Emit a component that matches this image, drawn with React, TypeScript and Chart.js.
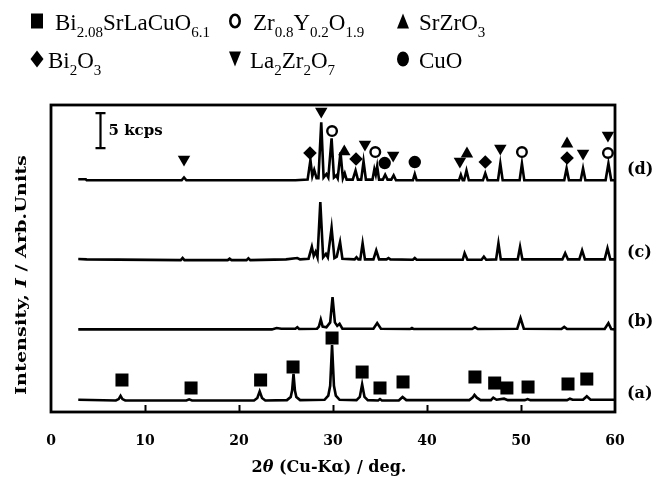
import React, { useEffect, useRef } from "react";
import { Chart, registerables } from "chart.js";

Chart.register(...registerables);

// ---------------- axes ----------------
const X_MIN = 0;
const X_MAX = 60;
const X_STEP = 10;
const X_TICKS_INNER = [10, 20, 30, 40, 50];
const Y_MIN = 0;
const Y_MAX = 43.86; // kcps

// ---------------- vertical offsets of the four patterns (kcps) ----------------
const OFFSET_A = 1.55;
const OFFSET_B = 11.8;
const OFFSET_C = 21.7;
const OFFSET_D = 33.1;

// ---------------- XRD patterns: [2theta (deg), intensity above own baseline (kcps)] ----------------
const PATTERN_A: number[][] = [
  [2.9, 0.2], [6.9, 0.1], [7.2, 0.3], [7.4, 0.75], [7.6, 0.3], [7.9, 0.1],
  [14.4, 0.1], [14.7, 0.25], [15.0, 0.1], [21.6, 0.1], [21.95, 0.45], [22.2, 1.4],
  [22.45, 0.45], [22.8, 0.1], [25.1, 0.15], [25.5, 0.6], [25.65, 1.5], [25.8, 3.9],
  [25.95, 1.5], [26.1, 0.6], [26.5, 0.15], [29.1, 0.2], [29.5, 0.8], [29.7, 2.2],
  [29.9, 8.0], [30.1, 2.2], [30.3, 0.8], [30.7, 0.2], [32.5, 0.15], [32.85, 0.6],
  [33.1, 2.4], [33.35, 0.6], [33.7, 0.15], [34.8, 0.1], [35.0, 0.3], [35.2, 0.1],
  [37.0, 0.1], [37.4, 0.6], [37.8, 0.15], [44.5, 0.15], [44.85, 0.5], [45.05, 0.9],
  [45.3, 0.5], [45.7, 0.15], [46.8, 0.15], [47.05, 0.5], [47.4, 0.2], [48.2, 0.35],
  [48.6, 0.15], [50.4, 0.15], [50.7, 0.3], [51.0, 0.15], [54.9, 0.15], [55.2, 0.35],
  [55.5, 0.2], [56.6, 0.2], [57.0, 0.7], [57.4, 0.2], [60, 0.2],
];

const PATTERN_B: number[][] = [
  [2.9, 0], [23.5, 0], [24.0, 0.2], [24.5, 0.1], [26.0, 0.1], [26.2, 0.3], [26.4, 0.05],
  [28.3, 0.1], [28.5, 0.4], [28.7, 1.4], [28.9, 0.4], [29.3, 0.3], [29.7, 1.0],
  [29.95, 4.6], [30.2, 1.0], [30.45, 0.5], [30.7, 0.8], [31.0, 0.1], [34.3, 0.1],
  [34.7, 0.9], [35.1, 0.1], [38.2, 0.05], [38.4, 0.2], [38.6, 0.05], [44.8, 0.05],
  [45.1, 0.3], [45.4, 0.05], [49.6, 0.1], [49.95, 1.6], [50.3, 0.1], [54.3, 0.05],
  [54.6, 0.35], [54.9, 0.05], [58.9, 0.05], [59.3, 0.9], [59.6, 0.05], [60, 0],
];

const PATTERN_C: number[][] = [
  [2.9, 0.15], [3.8, 0.1], [13.8, 0], [14.0, 0.3], [14.2, 0], [18.8, 0], [19.0, 0.2],
  [19.2, 0], [20.8, 0], [21.0, 0.25], [21.2, 0], [25.0, 0.1], [26.2, 0.3], [26.5, 0.1],
  [27.4, 0.2], [27.75, 1.9], [27.95, 0.6], [28.15, 1.2], [28.35, 0.4], [28.65, 8.3],
  [28.95, 0.4], [29.25, 0.9], [29.45, 0.4], [29.85, 4.6], [30.15, 0.3], [30.4, 0.5],
  [30.75, 2.6], [31.0, 0.2], [32.3, 0.1], [32.5, 0.4], [32.7, 0.1], [32.9, 0.1],
  [33.15, 2.4], [33.4, 0.1], [34.3, 0.1], [34.6, 1.4], [34.9, 0.1], [35.7, 0.1],
  [35.9, 0.3], [36.1, 0.1], [38.5, 0.05], [38.7, 0.3], [38.9, 0.05], [43.8, 0.05],
  [44.0, 1.0], [44.3, 0.05], [45.8, 0.05], [46.05, 0.5], [46.3, 0.05], [47.35, 0.1],
  [47.6, 2.4], [47.85, 0.1], [49.65, 0.1], [49.9, 1.9], [50.15, 0.1], [54.4, 0.1],
  [54.7, 1.0], [55.0, 0.1], [56.2, 0.1], [56.5, 1.4], [56.8, 0.1], [58.9, 0.1],
  [59.2, 1.7], [59.5, 0.1], [60, 0.1],
];

const PATTERN_D: number[][] = [
  [2.9, 0.15], [3.7, 0.15], [3.8, 0], [13.9, 0], [14.15, 0.4], [14.4, 0], [26.0, 0],
  [27.3, 0.1], [27.6, 2.9], [27.8, 0.6], [28.0, 1.5], [28.25, 0.3], [28.45, 0.3],
  [28.75, 8.3], [29.0, 0.4], [29.3, 0.9], [29.5, 0.4], [29.85, 6.0], [30.1, 0.4],
  [30.35, 0.7], [30.5, 0.3], [30.8, 4.0], [31.05, 0.3], [31.25, 1.0], [31.45, 0.1],
  [32.1, 0.1], [32.4, 1.4], [32.65, 0.1], [33.0, 0.1], [33.25, 2.7], [33.5, 0.1],
  [34.2, 0.1], [34.4, 1.6], [34.55, 0.8], [34.7, 2.0], [34.9, 0.1], [35.3, 0.1],
  [35.55, 0.8], [35.8, 0.1], [36.2, 0.1], [36.45, 0.7], [36.7, 0], [38.5, 0],
  [38.7, 0.9], [38.9, 0], [43.4, 0], [43.6, 0.8], [43.8, 0], [43.95, 0], [44.2, 1.4],
  [44.45, 0], [45.95, 0], [46.2, 1.0], [46.45, 0], [47.55, 0], [47.8, 2.4], [48.05, 0],
  [49.85, 0], [50.1, 2.4], [50.35, 0], [54.6, 0], [54.85, 1.7], [55.1, 0], [56.35, 0],
  [56.6, 1.7], [56.85, 0], [59.0, 0], [59.3, 2.4], [59.6, 0], [60, 0],
];

// ---------------- phase markers: [2theta, kcps on the plot scale] ----------------
const MARK_BSLCO: number[][] = [
  [7.55, 4.57], [14.9, 3.43], [22.3, 4.57], [25.75, 6.43], [29.9, 10.57], [33.1, 5.71],
  [35.0, 3.43], [37.45, 4.29], [45.1, 5.0], [47.2, 4.14], [48.5, 3.43], [50.75, 3.57],
  [55.0, 4.0], [57.0, 4.71],
];
const MARK_ZYO: number[][] = [[29.9, 40.14], [34.5, 37.14], [50.1, 37.14], [59.25, 37.0]];
const MARK_SZO: number[][] = [[31.2, 37.18], [44.25, 36.89], [54.9, 38.32]];
const MARK_BO: number[][] = [[27.55, 37.0], [32.45, 36.14], [46.2, 35.71], [54.9, 36.29]];
const MARK_LZO: number[][] = [
  [14.15, 36.1], [28.75, 42.96], [33.4, 38.25], [36.4, 36.68], [43.5, 35.82],
  [47.8, 37.68], [56.6, 36.96], [59.25, 39.54],
];
const MARK_CUO: number[][] = [[35.5, 35.57], [38.7, 35.71]];

// ---------------- annotations ----------------
const SAMPLE_LABELS = ["(a)", "(b)", "(c)", "(d)"];
const SAMPLE_LABEL_Y = [2.6, 12.9, 22.7, 34.6];
const SCALE_BAR_X = 5.2;
const SCALE_BAR_BOTTOM = 37.7;
const SCALE_BAR_KCPS = 5;
const SCALE_BAR_TEXT = "5 kcps";

type Part = [string, boolean];
const X_TITLE: Part[] = [["2", false], ["θ", true], [" (Cu-K", false], ["α", false], [") / deg.", false]];
const Y_TITLE: Part[] = [["Intensity, ", false], ["I", true], [" / Arb.Units", false]];

const LEGEND: { sym: string; parts: Part[] }[] = [
  { sym: "square", parts: [["Bi", false], ["2.08", true], ["SrLaCuO", false], ["6.1", true]] },
  { sym: "circleOpen", parts: [["Zr", false], ["0.8", true], ["Y", false], ["0.2", true], ["O", false], ["1.9", true]] },
  { sym: "triUp", parts: [["SrZrO", false], ["3", true]] },
  { sym: "diamond", parts: [["Bi", false], ["2", true], ["O", false], ["3", true]] },
  { sym: "triDown", parts: [["La", false], ["2", true], ["Zr", false], ["2", true], ["O", false], ["7", true]] },
  { sym: "circle", parts: [["CuO", false]] },
];

const BOLD_SERIF = "'DejaVu Serif', serif";
const LEGEND_SERIF = "'Liberation Serif', serif";

function lineDataset(points: number[][], offset: number) {
  return {
    type: "line" as const,
    data: points.map(([x, y]) => ({ x, y: y + offset })),
    borderColor: "#000",
    borderWidth: 2.6,
    pointRadius: 0,
    tension: 0,
    fill: false,
    order: 2,
  };
}

function markerDataset(points: number[][], style: string, radius: number, rotation: number, bg: string, bw: number) {
  return {
    type: "line" as const,
    data: points.map(([x, y]) => ({ x, y })),
    showLine: false,
    pointStyle: style,
    pointRadius: radius,
    pointRotation: rotation,
    pointBackgroundColor: bg,
    pointBorderColor: "#000",
    pointBorderWidth: bw,
    clip: false,
    order: 0,
  };
}

function drawSymbol(ctx: CanvasRenderingContext2D, kind: string, cx: number, cy: number, w: number, h: number) {
  ctx.save();
  ctx.fillStyle = "#000";
  ctx.strokeStyle = "#000";
  ctx.beginPath();
  if (kind === "square") {
    ctx.rect(cx - w / 2, cy - h / 2, w, h);
    ctx.fill();
  } else if (kind === "circleOpen") {
    ctx.lineWidth = 2.6;
    ctx.ellipse(cx, cy, w / 2 - 1.3, h / 2 - 1.3, 0, 0, Math.PI * 2);
    ctx.stroke();
  } else if (kind === "circle") {
    ctx.ellipse(cx, cy, w / 2, h / 2, 0, 0, Math.PI * 2);
    ctx.fill();
  } else if (kind === "triUp") {
    ctx.moveTo(cx, cy - h / 2);
    ctx.lineTo(cx + w / 2, cy + h / 2);
    ctx.lineTo(cx - w / 2, cy + h / 2);
    ctx.closePath();
    ctx.fill();
  } else if (kind === "triDown") {
    ctx.moveTo(cx - w / 2, cy - h / 2);
    ctx.lineTo(cx + w / 2, cy - h / 2);
    ctx.lineTo(cx, cy + h / 2);
    ctx.closePath();
    ctx.fill();
  } else if (kind === "diamond") {
    ctx.moveTo(cx, cy - h / 2);
    ctx.lineTo(cx + w / 2, cy);
    ctx.lineTo(cx, cy + h / 2);
    ctx.lineTo(cx - w / 2, cy);
    ctx.closePath();
    ctx.fill();
  }
  ctx.restore();
}

function drawRich(ctx: CanvasRenderingContext2D, parts: Part[], x: number, y: number, main: number, sub: number, drop: number) {
  let cx = x;
  for (const [t, isSub] of parts) {
    ctx.font = `${isSub ? sub : main}px ${LEGEND_SERIF}`;
    ctx.fillText(t, cx, isSub ? y + drop : y);
    cx += ctx.measureText(t).width;
  }
}

function mixedWidth(ctx: CanvasRenderingContext2D, parts: Part[], size: number) {
  let w = 0;
  for (const [t, it] of parts) {
    ctx.font = `${it ? "italic " : ""}bold ${size}px ${BOLD_SERIF}`;
    w += ctx.measureText(t).width;
  }
  return w;
}

function drawMixed(ctx: CanvasRenderingContext2D, parts: Part[], x: number, y: number, size: number) {
  let cx = x;
  for (const [t, it] of parts) {
    ctx.font = `${it ? "italic " : ""}bold ${size}px ${BOLD_SERIF}`;
    ctx.fillText(t, cx, y);
    cx += ctx.measureText(t).width;
  }
}

const decorPlugin = {
  id: "decor",
  beforeDraw(chart: any) {
    const ctx = chart.ctx as CanvasRenderingContext2D;
    ctx.save();
    ctx.fillStyle = "#fff";
    ctx.fillRect(0, 0, chart.width, chart.height);
    ctx.restore();
  },
  afterDraw(chart: any) {
    const ctx = chart.ctx as CanvasRenderingContext2D;
    const { left, right, top, bottom } = chart.chartArea;
    const xs = chart.scales.x;
    const ys = chart.scales.y;
    ctx.save();
    ctx.strokeStyle = "#000";
    ctx.fillStyle = "#000";

    // frame
    ctx.lineWidth = 2.8;
    ctx.strokeRect(left, top, right - left, bottom - top);

    // inward ticks
    ctx.lineWidth = 2;
    for (const v of X_TICKS_INNER) {
      const px = Math.round(xs.getPixelForValue(v)) + 0.5;
      ctx.beginPath();
      ctx.moveTo(px, bottom);
      ctx.lineTo(px, bottom - 7);
      ctx.stroke();
    }

    // scale bar
    const bx = Math.round(xs.getPixelForValue(SCALE_BAR_X)) + 0.5;
    const by0 = ys.getPixelForValue(SCALE_BAR_BOTTOM);
    const by1 = ys.getPixelForValue(SCALE_BAR_BOTTOM + SCALE_BAR_KCPS);
    ctx.lineWidth = 2.2;
    ctx.beginPath();
    ctx.moveTo(bx, by0);
    ctx.lineTo(bx, by1);
    ctx.moveTo(bx - 5, by0);
    ctx.lineTo(bx + 5, by0);
    ctx.moveTo(bx - 5, by1);
    ctx.lineTo(bx + 5, by1);
    ctx.stroke();
    ctx.font = `bold 15px ${BOLD_SERIF}`;
    ctx.textBaseline = "alphabetic";
    ctx.textAlign = "left";
    ctx.fillText(SCALE_BAR_TEXT, bx + 8, (by0 + by1) / 2 + 4);

    // sample labels
    ctx.font = `bold 16px ${BOLD_SERIF}`;
    ctx.textBaseline = "middle";
    SAMPLE_LABELS.forEach((lab, i) => {
      ctx.fillText(lab, right + 12, ys.getPixelForValue(SAMPLE_LABEL_Y[i]));
    });

    // x title
    ctx.textBaseline = "alphabetic";
    const xw = mixedWidth(ctx, X_TITLE, 16);
    drawMixed(ctx, X_TITLE, (left + right) / 2 - 4 - xw / 2, 472, 16);

    // y title (rotated, stretched along its length)
    ctx.save();
    ctx.translate(26, 275);
    ctx.rotate(-Math.PI / 2);
    ctx.scale(1.28, 1);
    const yw = mixedWidth(ctx, Y_TITLE, 15);
    drawMixed(ctx, Y_TITLE, -yw / 2, 0, 15);
    ctx.restore();

    // legend
    const cols = [
      { sx: 37, tx: 55 },
      { sx: 235, tx: 253 },
      { sx: 403, tx: 419 },
    ];
    const rows = [
      { sy: 21, base: 30 },
      { sy: 59, base: 68 },
    ];
    ctx.textBaseline = "alphabetic";
    LEGEND.forEach((item, i) => {
      const c = cols[i % 3];
      const r = rows[Math.floor(i / 3)];
      const w = item.sym === "diamond" ? 13 : 12;
      const h = item.sym === "diamond" ? 17 : 15;
      drawSymbol(ctx, item.sym, c.sx, r.sy, w, h);
      const tx = item.sym === "diamond" ? 48 : item.sym === "triDown" ? 250 : c.tx;
      drawRich(ctx, item.parts, tx, r.base, 23, 15, 7);
    });

    ctx.restore();
  },
};

export default function App() {
  const ref = useRef<HTMLCanvasElement>(null);
  useEffect(() => {
    if (!ref.current) return;
    const chart = new Chart(ref.current, {
      type: "line",
      data: {
        datasets: [
          markerDataset(MARK_BSLCO, "rect", 9.2, 0, "#000", 0),
          markerDataset(MARK_ZYO, "circle", 4.8, 0, "#fff", 2.4),
          markerDataset(MARK_SZO, "triangle", 7.2, 0, "#000", 0),
          markerDataset(MARK_BO, "rectRot", 6.8, 0, "#000", 0),
          markerDataset(MARK_LZO, "triangle", 7.2, 180, "#000", 0),
          markerDataset(MARK_CUO, "circle", 6.2, 0, "#000", 0),
          lineDataset(PATTERN_A, OFFSET_A),
          lineDataset(PATTERN_B, OFFSET_B),
          lineDataset(PATTERN_C, OFFSET_C),
          lineDataset(PATTERN_D, OFFSET_D),
        ] as any,
      },
      options: {
        responsive: false,
        animation: false,
        devicePixelRatio: 1,
        events: [],
        layout: { padding: { left: 51, right: 54, top: 105, bottom: 0 } },
        plugins: { legend: { display: false }, tooltip: { enabled: false } },
        scales: {
          x: {
            type: "linear",
            min: X_MIN,
            max: X_MAX,
            ticks: {
              stepSize: X_STEP,
              color: "#000",
              padding: 21,
              maxRotation: 0,
              font: { family: BOLD_SERIF, weight: "bold", size: 14 },
            },
            grid: { display: false, drawTicks: false },
            border: { display: false },
            afterFit: (s: any) => {
              s.height = 69;
            },
          },
          y: { type: "linear", display: false, min: Y_MIN, max: Y_MAX },
        },
      } as any,
      plugins: [decorPlugin],
    });
    return () => chart.destroy();
  }, []);
  return (
    <div style={{ position: "fixed", left: 0, top: 0, width: 669, height: 481, background: "#fff" }}>
      <canvas ref={ref} width={669} height={481} style={{ display: "block" }} />
    </div>
  );
}
